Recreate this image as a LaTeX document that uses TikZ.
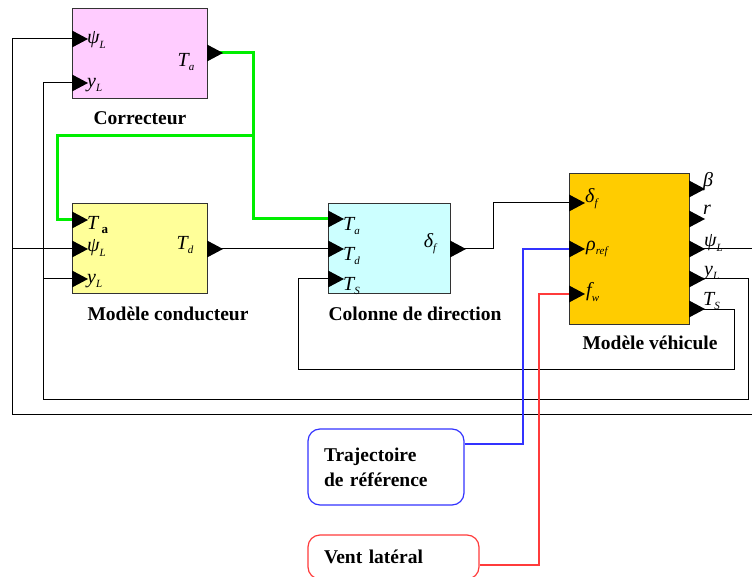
\documentclass[tikz,border=0pt]{standalone}
\usepackage{fontspec}
\setmainfont{Liberation Serif}
\usetikzlibrary{arrows.meta,positioning,calc}
\newcommand{\sig}[2]{{\itshape #1}\raisebox{-0.45ex}{\fontsize{11}{11}\selectfont\itshape #2}}
\definecolor{corrfill}{HTML}{FFCCFF}
\definecolor{condfill}{HTML}{FFFF99}
\definecolor{colfill}{HTML}{CCFFFF}
\definecolor{vehfill}{HTML}{FFCC00}
\definecolor{refblue}{HTML}{3333FF}
\definecolor{windred}{HTML}{FF3B3B}
\definecolor{tagreen}{HTML}{00EE00}

\begin{document}
\begin{tikzpicture}[
  x=1pt,y=-1pt,
  blk/.style={draw=black!80,line width=1pt,inner sep=0pt},
  src/.style={draw,rounded corners=12pt,line width=1.2pt,fill=white,align=left,
              inner xsep=16pt,font=\fontsize{19.5}{25}\selectfont\bfseries},
  lbl/.style={font=\fontsize{19.5}{23}\selectfont\bfseries},
  pin/.style={anchor=west,inner sep=0pt,font=\fontsize{20}{20}\selectfont},
  pout/.style={inner sep=0pt,font=\fontsize{20}{20}\selectfont},
  sig/.style={draw=black,line width=1pt},
  tsig/.style={draw=tagreen,line width=3pt},
  bsig/.style={draw=refblue,line width=1.2pt},
  rsig/.style={draw=windred,line width=1.2pt}
]
\useasboundingbox (0,0) rectangle (752,577);

% blocks
\node[blk,fill=corrfill,minimum width=135pt,minimum height=90pt] (corr) at (139.5,54) {};
\node[blk,fill=condfill,minimum width=135pt,minimum height=90pt] (cond) at (139.5,249) {};
\node[blk,fill=colfill,minimum width=122pt,minimum height=90pt] (col) at (389,249) {};
\node[blk,fill=vehfill,minimum width=120pt,minimum height=150pt] (veh) at (629,249) {};

\node[lbl] (corr-lbl) at (140,118) {Correcteur};
\node[lbl] (cond-lbl) at (168,314) {Modèle conducteur};
\node[lbl] (col-lbl) at (415,314) {Colonne de direction};
\node[lbl] (veh-lbl) at (650,343) {Modèle véhicule};

% sources
\node[src,draw=refblue,text width=124pt,minimum height=76pt] (traj) at (386,467)
  {Trajectoire\\de référence};
\node[src,draw=windred,text width=139pt,minimum height=44pt] (vent) at (393.5,557)
  {Vent latéral};

% ports
\coordinate (corr-psi) at (72,39);
\coordinate (corr-y) at (72,83);
\coordinate (corr-Ta) at (207,53);
\coordinate (cond-Ta) at (72,220);
\coordinate (cond-psi) at (72,249);
\coordinate (cond-y) at (72,279);
\coordinate (cond-Td) at (207,249);
\coordinate (col-Ta) at (328,219);
\coordinate (col-Td) at (328,249);
\coordinate (col-TS) at (328,279);
\coordinate (col-df) at (450,249);
\coordinate (veh-df) at (569,203);
\coordinate (veh-rho) at (569,249);
\coordinate (veh-fw) at (569,294);
\coordinate (veh-beta) at (689,189);
\coordinate (veh-r) at (689,219);
\coordinate (veh-psi) at (689,249);
\coordinate (veh-y) at (689,279);
\coordinate (veh-TS) at (689,309);

% connectors
\draw[tsig] (corr-Ta) -- (253,53) |- (col-Ta);
\draw[tsig] (253,136) -- (57,136) |- (cond-Ta);
\draw[sig] (cond-Td) -- (col-Td);
\draw[sig] (col-df) -| (493,203) -- (veh-df);
\draw[sig] (veh-psi) -- (753,249) |- (12,414) |- (corr-psi);
\draw[sig] (12,249) -- (cond-psi);
\draw[sig] (veh-y) -- (748,279) |- (43,399) |- (corr-y);
\draw[sig] (43,279) -- (cond-y);
\draw[sig] (veh-TS) -- (734,309) |- (298,369) |- (col-TS);
\draw[bsig] (traj.east |- 0,444) -| (523,249) -- (veh-rho);
\draw[rsig] (vent.east |- 0,565) -| (539,294) -- (veh-fw);

\foreach \p in {corr-psi,corr-y,corr-Ta,cond-Ta,cond-psi,cond-y,cond-Td,
                col-Ta,col-Td,col-TS,col-df,veh-df,veh-rho,veh-fw,
                veh-beta,veh-r,veh-psi,veh-y,veh-TS}
  \fill (\p) ++(0,-8.5) -- ++(16,8.5) -- ++(-16,8.5) -- cycle;

% port labels
\node[pin] (corr-psi-l) at (87,40) {\sig{ψ}{L}};
\node[pin] (corr-y-l) at (87,85) {\sig{y}{L}};
\node[pout] (corr-Ta-l) at (186,62) {\sig{T}{a}};
\node[pin] (cond-Ta-l) at (87,225)
  {{\itshape T}\,\raisebox{-0.4ex}{\fontsize{13}{13}\selectfont\bfseries a}};
\node[pin] (cond-psi-l) at (87,248) {\sig{ψ}{L}};
\node[pin] (cond-y-l) at (87,281) {\sig{y}{L}};
\node[pout] (cond-Td-l) at (185,245) {\sig{T}{d}};
\node[pin] (col-Ta-l) at (343,226) {\sig{T}{a}};
\node[pin] (col-Td-l) at (343,256) {\sig{T}{d}};
\node[pin] (col-TS-l) at (343,286) {\sig{T}{S}};
\node[pout] (col-df-l) at (430,244) {\sig{δ}{f}};
\node[pin] (veh-df-l) at (585,199) {\sig{δ}{f}};
\node[pin] (veh-rho-l) at (586,249) {\sig{ρ}{ref}};
\node[pin] (veh-fw-l) at (586,292) {\sig{f}{w}};
\node[pin] (veh-beta-l) at (703,182) {\sig{β}{}};
\node[pin] (veh-r-l) at (703,212) {\sig{r}{}};
\node[pin] (veh-psi-l) at (704,243) {\sig{ψ}{L}};
\node[pin] (veh-y-l) at (704,273) {\sig{y}{L}};
\node[pin] (veh-TS-l) at (703,301) {\sig{T}{S}};
\end{tikzpicture}
\end{document}
